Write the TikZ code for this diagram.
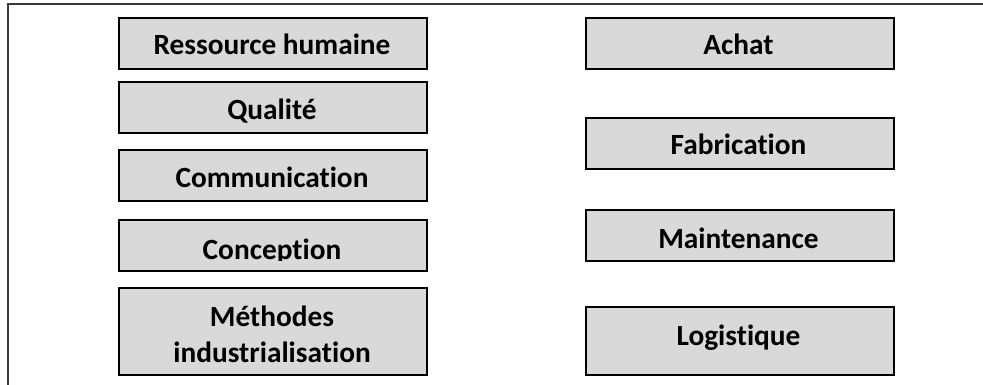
\documentclass[tikz,border=0pt]{standalone}
\usepackage{fontspec}
\setmainfont{Carlito}[RawFeature={-liga,-clig,-dlig}]
\definecolor{boxgray}{HTML}{D9D9D9}
\definecolor{framegray}{HTML}{3A3A3A}
\begin{document}
\begin{tikzpicture}[x=0.75pt,y=-0.75pt,
  dept/.style={draw=black, line width=1.2pt, fill=boxgray, inner sep=0pt,
    anchor=north west, minimum width=231pt},
  deptlabel/.style={font=\bfseries\fontsize{22}{27}\selectfont,
    anchor=base, inner sep=0pt},
  frameline/.style={draw=framegray, line width=1.5pt}]
  \useasboundingbox (0,0) rectangle (983,385);

  % open frame: top edge and left edge
  \coordinate (ftl) at (8,4);
  \coordinate (ftr) at (983,4);
  \coordinate (fbl) at (8,385);
  \draw[frameline] (fbl) -- (ftl) -- (ftr);

  % left column
  \node[dept, minimum height=38.25pt] (rh)   at (118,17)  {};
  \node[dept, minimum height=38.25pt] (qual) at (118,81)  {};
  \node[dept, minimum height=38.25pt] (comm) at (118,149) {};
  \node[dept, minimum height=38.25pt] (conc) at (118,219) {};
  \node[dept, minimum height=65.25pt] (meth) at (118,287) {};

  % right column
  \node[dept, minimum height=38.25pt] (achat) at (585,17)  {};
  \node[dept, minimum height=38.25pt] (fab)   at (585,117) {};
  \node[dept, minimum height=38.25pt] (maint) at (585,209) {};
  \node[dept, minimum height=51pt]    (logi)  at (585,306) {};

  % labels
  \node[deptlabel] (rhl)   at (272,55)  {Ressource humaine};
  \node[deptlabel] (quall) at (272,120) {Qualité};
  \node[deptlabel] (comml) at (272,188) {Communication};
  \begin{scope}
    \clip (118,219) rectangle (426,260);
    \node[deptlabel] (concl) at (272,259) {Conception};
  \end{scope}
  \node[deptlabel] (methl1) at (272,326) {Méthodes};
  \node[deptlabel] (methl2) at (272,362) {industrialisation};

  \node[deptlabel] (achatl) at (738.5,55)  {Achat};
  \node[deptlabel] (fabl)   at (738.5,155) {Fabrication};
  \node[deptlabel] (maintl) at (738.5,248) {Maintenance};
  \node[deptlabel] (logil)  at (738.5,345) {Logistique};
\end{tikzpicture}
\end{document}
